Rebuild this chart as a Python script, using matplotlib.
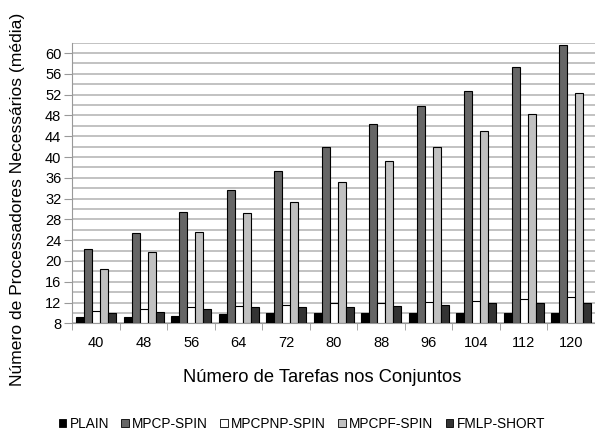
import matplotlib
matplotlib.use("Agg")
import matplotlib.pyplot as plt
import numpy as np
from matplotlib.patches import Patch

plt.rcParams['font.family'] = ['Liberation Sans', 'DejaVu Sans']

categories = ['40', '48', '56', '64', '72', '80', '88', '96', '104', '112', '120']
series_names = ['PLAIN', 'MPCP-SPIN', 'MPCPNP-SPIN', 'MPCPF-SPIN', 'FMLP-SHORT']
plain   = [9.15, 9.3, 9.5, 9.85, 9.9, 10.0, 10.0, 10.0, 10.0, 10.0, 10.0]
mpcp    = [22.3, 25.3, 29.4, 33.6, 37.4, 41.9, 46.3, 49.8, 52.8, 57.3, 61.5]
mpcpnp  = [10.4, 10.75, 11.1, 11.3, 11.5, 11.85, 12.0, 12.2, 12.3, 12.7, 13.0]
mpcpf   = [18.5, 21.7, 25.6, 29.2, 31.3, 35.1, 39.2, 41.9, 45.0, 48.2, 52.3]
fmlp    = [10.0, 10.2, 10.75, 11.1, 11.1, 11.1, 11.3, 11.5, 11.9, 11.9, 12.0]
colors = ['#000000', '#666666', '#ffffff', '#c0c0c0', '#333333']

fig = plt.figure(figsize=(5.95, 4.34), dpi=100)
ax = fig.add_axes([0.1218, 0.255, 0.8782, 0.6466])

data = [plain, mpcp, mpcpnp, mpcpf, fmlp]
x = np.arange(len(categories))
w = 0.168
ymin = 8
for i, (vals, c) in enumerate(zip(data, colors)):
    offs = (i - 2) * w
    ax.bar(x + offs, np.array(vals) - ymin, width=w, bottom=ymin, color=c,
           edgecolor='#000000', linewidth=0.8, zorder=3)

ax.set_xlim(-0.5, len(categories) - 0.5)
ax.set_ylim(8, 62)
ax.set_yticks(np.arange(8, 61, 4))
ax.set_yticks(np.arange(8, 63, 2), minor=True)
ax.yaxis.grid(True, which='both', color='#b8b8b8', linewidth=1.2, zorder=0)
ax.tick_params(axis='y', which='minor', length=0)
ax.tick_params(axis='y', which='major', length=6, color='#999999', labelsize=10.5, pad=2)

ax.set_xticks(x)
ax.set_xticklabels(categories)
ax.set_xticks(np.arange(-0.5, len(categories), 1), minor=True)
ax.tick_params(axis='x', which='major', length=0, labelsize=10.5, pad=9)
ax.tick_params(axis='x', which='minor', length=5, color='#999999')

for s in ['top', 'right']:
    ax.spines[s].set_visible(False)
ax.spines['left'].set_color('#999999')
ax.spines['bottom'].set_color('#999999')

fig.text(322.5 / 595, 1 - 378 / 434, 'Número de Tarefas nos Conjuntos',
         ha='center', va='center', fontsize=13.2)
fig.text(0.029, 0.541, 'Número de Processadores Necessários (média)', rotation=90,
         ha='center', va='center', fontsize=12.6)

handles = [Patch(facecolor=c, edgecolor='#000000', linewidth=0.6) for c in colors]
fig.legend(handles, series_names, loc='center', bbox_to_anchor=(302 / 595, 1 - 424 / 434),
           ncol=5, frameon=False, fontsize=9.8, handlelength=0.55, handleheight=0.55,
           handletextpad=0.25, columnspacing=0.9, borderaxespad=0)

fig.savefig('out.png', dpi=100)
